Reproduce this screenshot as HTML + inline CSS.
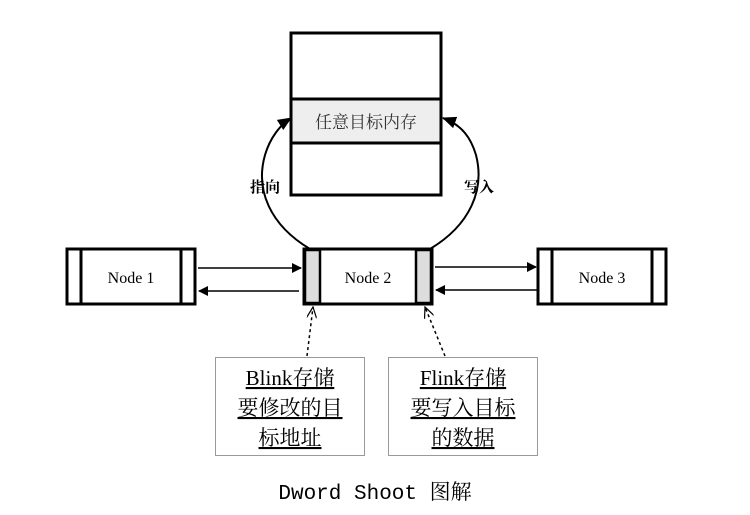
<!DOCTYPE html>
<html><head><meta charset="utf-8"><style>
body{margin:0;background:#fff;width:750px;height:510px;overflow:hidden}
svg text{font-family:"Liberation Serif","Noto Serif CJK SC",serif}
</style></head><body>
<svg width="750" height="510" viewBox="0 0 750 510" xmlns="http://www.w3.org/2000/svg">
<defs>
<marker id="a" markerWidth="10" markerHeight="10" refX="9" refY="5" orient="auto" markerUnits="userSpaceOnUse"><path d="M0,0 L10,5 L0,10 z" fill="#000"/></marker>
<marker id="b" markerWidth="14" markerHeight="12" refX="13" refY="6" orient="auto" markerUnits="userSpaceOnUse"><path d="M0,0 L14,6 L0,12 z" fill="#000"/></marker>
<marker id="c" markerWidth="12" markerHeight="10" refX="11" refY="5" orient="auto" markerUnits="userSpaceOnUse"><path d="M0,0 L11,5 L0,10" fill="none" stroke="#000" stroke-width="1.2"/></marker>
</defs>
<!-- memory box -->
<rect x="291" y="33" width="150" height="162" fill="#fff" stroke="#000" stroke-width="3"/>
<rect x="291" y="99" width="150" height="44" fill="#eee" stroke="#000" stroke-width="3"/>
<text x="366" y="128" font-size="17" text-anchor="middle" font-family="Noto Sans CJK SC,sans-serif" fill="#333">任意目标内存</text>
<!-- curves -->
<path d="M310,249 C270,225 255,190 265,155 C270,138 280,125 291,118" fill="none" stroke="#000" stroke-width="2" marker-end="url(#b)"/>
<path d="M430,249 C470,225 485,190 476,155 C471,138 462,125 443,118" fill="none" stroke="#000" stroke-width="2" marker-end="url(#b)"/>
<text x="265" y="192" font-size="15" text-anchor="middle" font-weight="bold" font-family="Noto Sans CJK SC,sans-serif">指向</text>
<text x="479" y="192" font-size="15" text-anchor="middle" font-weight="bold" font-family="Noto Sans CJK SC,sans-serif">写入</text>
<!-- node1 -->
<rect x="67" y="249" width="128" height="55" fill="#fff" stroke="#000" stroke-width="3"/>
<line x1="81" y1="249" x2="81" y2="304" stroke="#000" stroke-width="3"/>
<line x1="181" y1="249" x2="181" y2="304" stroke="#000" stroke-width="3"/>
<text x="131" y="283" font-size="16" text-anchor="middle">Node 1</text>
<!-- node2 -->
<rect x="304" y="249" width="128" height="55" fill="#fff" stroke="#000" stroke-width="3"/>
<rect x="305" y="250" width="15" height="53" fill="#ddd" stroke="#000" stroke-width="2.5"/>
<rect x="416" y="250" width="15" height="53" fill="#ddd" stroke="#000" stroke-width="2.5"/>
<text x="368" y="283" font-size="16" text-anchor="middle">Node 2</text>
<!-- node3 -->
<rect x="538" y="249" width="128" height="55" fill="#fff" stroke="#000" stroke-width="3"/>
<line x1="552" y1="249" x2="552" y2="304" stroke="#000" stroke-width="3"/>
<line x1="652" y1="249" x2="652" y2="304" stroke="#000" stroke-width="3"/>
<text x="602" y="283" font-size="16" text-anchor="middle">Node 3</text>
<!-- arrows -->
<line x1="198" y1="268" x2="301" y2="268" stroke="#000" stroke-width="1.5" marker-end="url(#a)"/>
<line x1="299" y1="291" x2="199" y2="291" stroke="#000" stroke-width="1.5" marker-end="url(#a)"/>
<line x1="435" y1="267" x2="536" y2="267" stroke="#000" stroke-width="1.5" marker-end="url(#a)"/>
<line x1="537" y1="290" x2="436" y2="290" stroke="#000" stroke-width="1.5" marker-end="url(#a)"/>
<!-- dotted -->
<line x1="307" y1="356" x2="313" y2="307" stroke="#000" stroke-width="1.5" stroke-dasharray="3,3" marker-end="url(#c)"/>
<line x1="445" y1="356" x2="425" y2="307" stroke="#000" stroke-width="1.5" stroke-dasharray="3,3" marker-end="url(#c)"/>
<!-- text boxes -->
<rect x="215.5" y="357.5" width="149" height="98" fill="#fff" stroke="#999" stroke-width="1"/>
<rect x="388.5" y="357.5" width="149" height="98" fill="#fff" stroke="#999" stroke-width="1"/>
<g font-size="21" text-anchor="middle" text-decoration="underline" style="font-family:'Liberation Mono','Noto Serif CJK SC',monospace">
<text x="290" y="385">Blink存储</text>
<text x="290" y="415">要修改的目</text>
<text x="290" y="445">标地址</text>
<text x="463" y="385">Flink存储</text>
<text x="463" y="415">要写入目标</text>
<text x="463" y="445">的数据</text>
</g>
<text x="375" y="499" font-size="21" text-anchor="middle" style="font-family:'Liberation Mono','Noto Serif CJK SC',monospace">Dword Shoot 图解</text>
</svg>
</body></html>
